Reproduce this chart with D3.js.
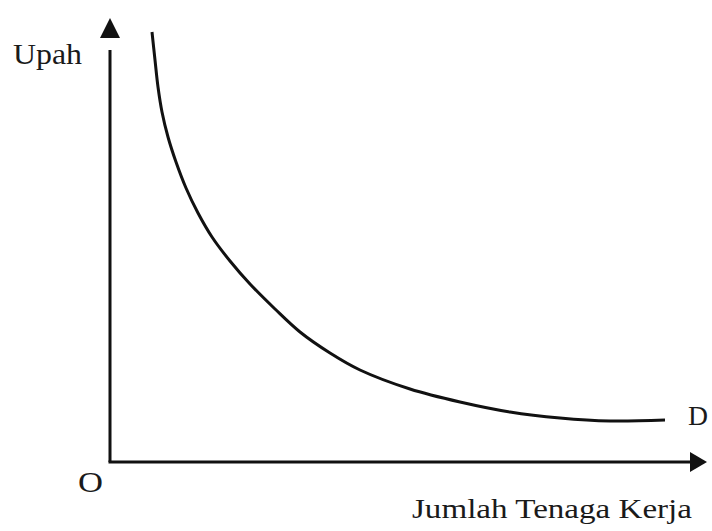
<!DOCTYPE html>
<html>
<head>
<meta charset="utf-8">
<script src="https://cdn.jsdelivr.net/npm/d3@7"></script>
<style>
  html, body { margin: 0; padding: 0; background: #fff; }
  svg { display: block; }
  text { font-family: "Liberation Serif", "Times New Roman", Times, serif; fill: #1a1a1a; }
</style>
</head>
<body>
<svg id="chart" width="712" height="531"></svg>
<script>
// Demand curve for labour (Jumlah Tenaga Kerja vs Upah), arbitrary units
const quantity = [42, 45, 48, 52, 58, 66, 76, 88, 102, 120, 140, 165, 190, 220, 250, 300, 350, 400, 450, 500, 555];
const wage     = [430, 402, 375, 350, 325, 300, 274, 249, 225, 201, 178, 153, 130, 109, 92, 73, 60, 50, 44, 41, 42];
const yLabel = "Upah";
const xLabel = "Jumlah Tenaga Kerja";
const originLabel = "O";
const curveLabel = "D";

const svg = d3.select("#chart");
const x = d3.scaleLinear().domain([0, 600]).range([110, 710]);
const y = d3.scaleLinear().domain([0, 450]).range([462, 12]);

// axes
svg.append("line")
  .attr("x1", x(0)).attr("y1", y(0))
  .attr("x2", x(0)).attr("y2", y(412))
  .attr("stroke", "#111").attr("stroke-width", 3);
svg.append("line")
  .attr("x1", x(0) - 1.5).attr("y1", y(0))
  .attr("x2", x(582)).attr("y2", y(0))
  .attr("stroke", "#111").attr("stroke-width", 3);

// arrowheads
svg.append("path")
  .attr("d", `M${x(0)},${y(444)} L${x(0) - 10},${y(424)} L${x(0) + 10},${y(424)} Z`)
  .attr("fill", "#111");
svg.append("path")
  .attr("d", `M${x(597)},${y(0)} L${x(580)},${y(0) - 10} L${x(580)},${y(0) + 10} Z`)
  .attr("fill", "#111");

// curve
const line = d3.line()
  .x((d, i) => x(quantity[i]))
  .y((d, i) => y(wage[i]))
  .curve(d3.curveCatmullRom.alpha(0.5));
svg.append("path")
  .datum(quantity)
  .attr("d", line)
  .attr("fill", "none")
  .attr("stroke", "#111")
  .attr("stroke-width", 3)
  .attr("stroke-linecap", "butt");

// labels
svg.append("text").attr("x", 13).attr("y", 64)
  .attr("font-size", 29).attr("textLength", 69).attr("lengthAdjust", "spacingAndGlyphs")
  .text(yLabel);
svg.append("text").attr("x", 78).attr("y", 492)
  .attr("font-size", 30).attr("textLength", 25).attr("lengthAdjust", "spacingAndGlyphs")
  .text(originLabel);
svg.append("text").attr("x", 688).attr("y", 425)
  .attr("font-size", 28).attr("textLength", 20).attr("lengthAdjust", "spacingAndGlyphs")
  .text(curveLabel);
svg.append("text").attr("x", 412).attr("y", 518)
  .attr("font-size", 27).attr("textLength", 280).attr("lengthAdjust", "spacingAndGlyphs")
  .text(xLabel);
</script>
</body>
</html>
